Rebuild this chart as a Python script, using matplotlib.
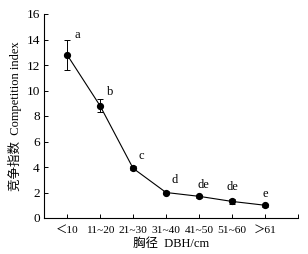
import matplotlib
matplotlib.use("Agg")
import matplotlib.pyplot as plt

categories = ["＜10", "11~20", "21~30", "31~40", "41~50", "51~60", "＞61"]
values = [12.8, 8.8, 3.9, 2.0, 1.7, 1.3, 1.0]
errors = [1.2, 0.5, 0.15, 0.15, 0.12, 0.2, 0.1]
letters = ["a", "b", "c", "d", "de", "de", "e"]

plt.rcParams['font.family'] = ['Liberation Serif', 'Noto Sans CJK SC']

fig = plt.figure(figsize=(3.08, 2.54), dpi=100)
ax = fig.add_axes([44/308, 1-218/254, (298-44)/308, (218-14)/254])

x = list(range(1, len(categories) + 1))
ax.errorbar(x, values, yerr=errors, color='black', lw=0.8, marker='o', ms=4.2,
            capsize=2.5, elinewidth=0.7, capthick=0.7)

offsets = [(5, -1), (5, 1), (4, 3), (4, 3), (3, 3), (0, 4), (0, 3)]
for xi, v, e, l, off in zip(x, values, errors, letters, offsets):
    ax.annotate(l, (xi, v + e), xytext=off, textcoords='offset points',
                ha='center' if off[0] < 4 else 'left', va='bottom', fontsize=9)

ax.set_xlim(0.3, 8)
ax.set_ylim(0, 16)
ax.set_xticks(x + [8])
ax.set_xticklabels(categories + [""], fontsize=8)
ax.set_yticks(range(0, 17, 2))
ax.tick_params(axis='both', direction='in', length=3, width=0.7, labelsize=9.5, pad=3)
ax.tick_params(axis='x', pad=6, labelsize=8.2)
for s in ['top', 'right']:
    ax.spines[s].set_visible(False)
for s in ['left', 'bottom']:
    ax.spines[s].set_linewidth(0.8)

ax.set_ylabel("竞争指数  Competition index", fontsize=9, labelpad=3)
ax.set_xlabel("胸径  DBH/cm", fontsize=9, labelpad=2)

fig.savefig("out.png", dpi=100)
